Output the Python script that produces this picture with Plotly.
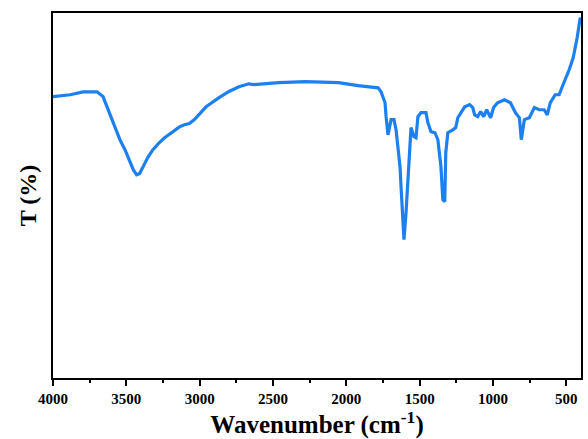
import plotly.graph_objects as go

# FTIR spectrum: wavenumber (cm-1) and transmittance (%)
wavenumber = [
    4000, 3883, 3795, 3700, 3659, 3612, 3544, 3510, 3476, 3452, 3430, 3410,
    3390, 3354, 3320, 3280,
    3239, 3138, 3104, 3070, 3036, 2956, 2868, 2800, 2732, 2665, 2631, 2583, 2461,
    2277, 2054, 1919, 1851, 1784, 1763, 1736, 1729, 1716, 1695, 1675, 1661,
    1634, 1627, 1614, 1607, 1593, 1580, 1566, 1559, 1539, 1525, 1512, 1491,
    1457, 1444, 1423, 1396, 1376, 1355, 1342, 1329, 1322, 1308, 1274, 1254,
    1240, 1220, 1193, 1159, 1138, 1125, 1104, 1084, 1064, 1043, 1016, 996,
    969, 921, 881, 847, 820, 807, 786, 752, 718, 685, 651, 630, 610, 576,
    549, 528, 507, 480, 453, 426, 405,
]
transmittance = [
    77.1, 77.6, 78.4, 78.4, 77.1, 72.1, 65.3, 62.6, 59.5, 57.0, 55.7, 56.0,
    57.5, 60.4, 62.5, 64.3,
    65.8, 68.8, 69.4, 69.7, 70.8, 74.3, 76.8, 78.5, 79.8, 80.6, 80.4, 80.6, 80.9,
    81.2, 80.9, 80.1, 79.8, 79.5, 78.4, 75.4, 71.6, 66.6, 70.8, 70.8, 68.0,
    57.9, 52.4, 42.5, 37.9, 45.3, 55.2, 62.5, 68.6, 66.1, 65.8, 71.6, 72.7,
    72.7, 70.0, 67.5, 67.2, 65.3, 57.9, 48.8, 48.3, 61.7, 67.2, 68.0, 68.6,
    71.3, 72.7, 74.3, 74.9, 74.1, 72.1, 71.6, 73.0, 71.6, 73.5, 71.3, 74.1,
    75.4, 76.2, 75.4, 72.7, 71.3, 65.3, 70.8, 71.3, 74.1, 73.5, 73.5, 72.1,
    75.4, 77.6, 77.6, 79.8, 81.8, 84.5, 87.8, 93.3, 98.8,
]
x_ticks = [4000, 3500, 3000, 2500, 2000, 1500, 1000, 500]

font_family = "Liberation Serif, Times New Roman, serif"

fig = go.Figure()
fig.add_trace(go.Scatter(
    x=wavenumber, y=transmittance, mode="lines",
    line=dict(color="rgb(28,128,240)", width=3.2),
    showlegend=False,
))

fig.update_layout(
    width=588, height=439,
    margin=dict(l=53, r=5, t=13, b=61),
    paper_bgcolor="white", plot_bgcolor="white",
    font=dict(family=font_family, color="black"),
    xaxis=dict(
        range=[4000, 400],
        tickvals=x_ticks,
        ticktext=[f"<b>{v}</b>" for v in x_ticks],
        ticks="outside", ticklen=6, tickwidth=1.5, tickcolor="black",
        minor=dict(dtick=250, tick0=0, ticks="outside", ticklen=3,
                   tickwidth=1.5, tickcolor="black"),
        tickfont=dict(size=15, family=font_family),
        showline=True, linecolor="black", linewidth=2, mirror=True,
        showgrid=False, zeroline=False,
        title=dict(text="<b>Wavenumber (cm<sup>-1</sup>)</b>",
                   font=dict(size=25, family=font_family), standoff=0),
    ),
    yaxis=dict(
        range=[0, 100],
        showticklabels=False, ticks="",
        showline=True, linecolor="black", linewidth=2, mirror=True,
        showgrid=False, zeroline=False,
        title=dict(text="<b>T (%)</b>",
                   font=dict(size=24, family=font_family), standoff=8),
    ),
)

fig.write_html("out.html")
